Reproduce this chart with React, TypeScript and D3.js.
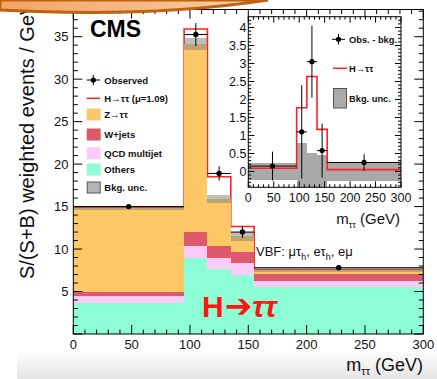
import React from 'react';
import * as d3 from 'd3';

// Histogram binning in m_tautau (GeV)
const binEdges = [0, 95, 115, 135, 155, 300];

// Stacked background contributions per bin (S/(S+B) weighted events / GeV)
const others = [3.6, 9.0, 7.6, 7.0, 5.55];
const qcdMultijet = [0.9, 1.35, 1.4, 1.3, 0.65];
const wJets = [0.4, 1.65, 1.35, 1.3, 0.9];
const zTauTau = [9.95, 22.15, 5.55, 1.9, 0.45];
const bkgUnc = [0.2, 0.75, 0.5, 0.55, 0.27];
const signal = [0.09, 1.75, 2.62, 1.15, 0.05];
const observed = [15.0, 35.25, 18.9, 12.0, 7.8];
const observedErr = [0.15, 1.35, 0.85, 0.7, 0.15];

// Inset: observed minus background
const obsMinusBkg = [0.15, 1.1, 3.05, 0.58, 0.25];
const obsMinusBkgErr = [0.4, 1.3, 1.0, 0.75, 0.23];
const insetSignal = [0.09, 1.77, 2.64, 1.17, 0.05];
const insetBkgUnc = [0.23, 0.8, 0.5, 0.46, 0.27];

const mainYTickLabels = [5, 10, 15, 20, 25, 30, 35];
const xTickLabels = [0, 50, 100, 150, 200, 250, 300];
const insetYTickLabels = ['0', '0.5', '1', '1.5', '2', '2.5', '3', '3.5', '4'];

const processKeys = ['others', 'qcd', 'wjets', 'ztt'];
const processColor: Record<string, string> = {
  others: '#8dfdd6',
  qcd: '#fccbf8',
  wjets: '#de5a6a',
  ztt: '#fdc865',
};

const FONT = "'Liberation Sans', Arial, Helvetica, sans-serif";

export default function App() {
  const W = 437;
  const H = 379;

  const x = d3.scaleLinear().domain([0, 300]).range([73.3, 423.3]);
  const y = d3.scaleLinear().domain([0, 38.2]).range([334, 9.5]);
  const ix = d3.scaleLinear().domain([0, 300]).range([248.3, 401]);
  const iy = d3.scaleLinear().domain([-0.44, 4.3]).range([187.3, 16.7]);

  const bins = binEdges.slice(0, -1).map((lo, i) => ({
    lo,
    hi: binEdges[i + 1],
    others: others[i],
    qcd: qcdMultijet[i],
    wjets: wJets[i],
    ztt: zTauTau[i],
  }));
  const layers = d3.stack<any>().keys(processKeys)(bins);
  const bkgTotal = bins.map((_, i) => layers[layers.length - 1][i][1]);
  const sPlusB = bkgTotal.map((b, i) => b + signal[i]);

  const stepPts = (vals: number[]) => [
    ...vals.map((v, i) => [binEdges[i], v] as [number, number]),
    [binEdges[binEdges.length - 1], vals[vals.length - 1]] as [number, number],
  ];
  const mainStep = d3
    .line<[number, number]>()
    .x((d) => x(d[0]))
    .y((d) => y(d[1]))
    .curve(d3.curveStepAfter)(stepPts(sPlusB));
  const insetStep = d3
    .line<[number, number]>()
    .x((d) => ix(d[0]))
    .y((d) => iy(d[1]))
    .curve(d3.curveStepAfter)(stepPts(insetSignal));

  const centers = bins.map((b) => (b.lo + b.hi) / 2);

  // Main axis ticks
  const yMinor = d3.range(0, 38.01, 1);
  const xMinor = d3.range(0, 300.01, 10);
  const x0 = x(0), x1 = x(300), yb = y(0), yt = y(38.2);

  const iyMinor = d3.range(-4, 43, 1).map((v) => v / 10);
  const ixMinor = d3.range(0, 300.01, 10);
  const ix0 = ix(0), ix1 = ix(300), iyb = iy(-0.44), iyt = iy(4.3);

  const legendRows = [
    { label: 'Z\u2192\u03c4\u03c4', color: processColor.ztt, yTop: 108.5 },
    { label: 'W+jets', color: processColor.wjets, yTop: 128.5 },
    { label: 'QCD multijet', color: processColor.qcd, yTop: 147.3 },
    { label: 'Others', color: processColor.others, yTop: 163.5 },
  ];

  return (
    <svg
      width={W}
      height={H}
      viewBox={`0 0 ${W} ${H}`}
      style={{ position: 'absolute', left: 0, top: 0, background: '#fff' }}
      fontFamily={FONT}
    >
      <defs>
        <linearGradient id="bannerFill" x1="0" y1="0" x2="1" y2="0">
          <stop offset="0" stopColor="#f2a466" />
          <stop offset="1" stopColor="#f8cfa8" />
        </linearGradient>
        <linearGradient id="floorFill" x1="0" y1="0" x2="0" y2="1">
          <stop offset="0" stopColor="#ffffff" />
          <stop offset="1" stopColor="#e4e4e4" />
        </linearGradient>
        <clipPath id="mainClip">
          <rect x={x0} y={yt} width={x1 - x0} height={yb - yt} />
        </clipPath>
        <clipPath id="insetClip">
          <rect x={ix0} y={iyt} width={ix1 - ix0} height={iyb - iyt} />
        </clipPath>
      </defs>

      <rect x={0} y={0} width={W} height={H} fill="#fff" />
      <rect x={17} y={350} width={W - 17} height={H - 350} fill="url(#floorFill)" />

      {/* S+B outline below the stack */}
      <path d={mainStep || ''} fill="none" stroke="#ff2020" strokeWidth={1.6} clipPath="url(#mainClip)" />

      {/* background stack */}
      <g clipPath="url(#mainClip)" shapeRendering="crispEdges">
        {layers.map((layer) =>
          layer.map((seg, i) => (
            <rect
              key={`${layer.key}-${i}`}
              x={x(bins[i].lo)}
              width={x(bins[i].hi) - x(bins[i].lo)}
              y={y(seg[1])}
              height={y(seg[0]) - y(seg[1])}
              fill={processColor[layer.key]}
            />
          ))
        )}
        {bins.map((b, i) => (
          <rect
            key={`unc-${i}`}
            x={x(b.lo)}
            width={x(b.hi) - x(b.lo)}
            y={y(bkgTotal[i] + bkgUnc[i])}
            height={y(bkgTotal[i] - bkgUnc[i]) - y(bkgTotal[i] + bkgUnc[i])}
            fill="#808080"
            fillOpacity={0.5}
          />
        ))}
      </g>

      {/* observed data */}
      <g stroke="#000" strokeWidth={1}>
        {bins.map((b, i) => (
          <g key={`obs-${i}`}>
            <line x1={x(b.lo)} x2={x(b.hi)} y1={y(observed[i])} y2={y(observed[i])} />
            <line
              x1={x(centers[i])}
              x2={x(centers[i])}
              y1={y(observed[i] - observedErr[i])}
              y2={y(observed[i] + observedErr[i])}
            />
            <circle cx={x(centers[i])} cy={y(observed[i])} r={2.7} fill="#000" stroke="none" />
          </g>
        ))}
      </g>

      {/* main frame and ticks */}
      <g stroke="#000" strokeWidth={1} fill="none">
        <rect x={x0} y={yt} width={x1 - x0} height={yb - yt} />
        {yMinor.map((v) => {
          const major = v % 5 === 0;
          const len = major ? 9 : 4.5;
          return (
            <g key={`ym-${v}`}>
              <line x1={x0} x2={x0 + len} y1={y(v)} y2={y(v)} />
              <line x1={x1} x2={x1 - len} y1={y(v)} y2={y(v)} />
            </g>
          );
        })}
        {xMinor.map((v) => {
          const major = v % 50 === 0;
          const len = major ? 9 : 4.5;
          return (
            <g key={`xm-${v}`}>
              <line x1={x(v)} x2={x(v)} y1={yb} y2={yb - len} />
              <line x1={x(v)} x2={x(v)} y1={yt} y2={yt + len} />
            </g>
          );
        })}
      </g>
      <g fontSize={13} fill="#111">
        {mainYTickLabels.map((v) => (
          <text key={`yl-${v}`} x={68.5} y={y(v) + 4.6} textAnchor="end">
            {v}
          </text>
        ))}
        {xTickLabels.map((v) => (
          <text key={`xl-${v}`} x={x(v)} y={348.5} textAnchor="middle">
            {v}
          </text>
        ))}
      </g>

      {/* axis titles */}
      <text
        transform={`translate(33.5, 279) rotate(-90)`}
        fontSize={20}
        fill="#111"
        textAnchor="start"
      >
        S/(S+B) weighted events / GeV
      </text>
      <text x={423} y={371} fontSize={18} fill="#111" textAnchor="end">
        m
        <tspan fontSize={11} dy={4}>
          {'\u03c4\u03c4'}
        </tspan>
        <tspan dy={-4}> (GeV)</tspan>
      </text>

      {/* CMS label */}
      <text x={90} y={37} fontSize={23} fontWeight="bold" fill="#000">
        CMS
      </text>

      {/* main legend */}
      <g fontSize={9.5} fontWeight="bold" fill="#111">
        <line x1={86.7} x2={100} y1={80} y2={80} stroke="#000" />
        <line x1={93.3} x2={93.3} y1={75} y2={85} stroke="#000" />
        <circle cx={93.3} cy={80} r={2.6} fill="#000" />
        <text x={104.3} y={83.5}>Observed</text>

        <line x1={86.7} x2={100} y1={98.3} y2={98.3} stroke="#ff2020" strokeWidth={1.5} />
        <text x={104.3} y={101.8}>
          {'H\u2192\u03c4\u03c4 (\u03bc=1.09)'}
        </text>

        {legendRows.map((r) => (
          <g key={r.label}>
            <rect x={86.7} y={r.yTop} width={14} height={12} fill={r.color} />
            <text x={104.3} y={r.yTop + 9.5}>
              {r.label}
            </text>
          </g>
        ))}
        <rect x={87.2} y={182} width={13} height={11} fill="#b4b4b4" stroke="#555" strokeWidth={1} />
        <text x={104.3} y={191.3}>Bkg. unc.</text>
      </g>

      {/* category label */}
      <text x={256} y={256} fontSize={13} fill="#111">
        {'VBF: \u03bc\u03c4'}
        <tspan fontSize={9} dy={4}>h</tspan>
        <tspan dy={-4}>{', e\u03c4'}</tspan>
        <tspan fontSize={9} dy={4}>h</tspan>
        <tspan dy={-4}>{', e\u03bc'}</tspan>
      </text>

      {/* process label */}
      <text x={202} y={316.5} fontSize={30} fontWeight="bold" fill="#ff1414">
        H
        <tspan fontFamily="'DejaVu Sans', sans-serif" fontSize={33} dx={1}>
          {'\u2794'}
        </tspan>
        <tspan fontStyle="italic">{'\u03c4\u03c4'}</tspan>
      </text>

      {/* inset */}
      <rect x={ix0} y={iyt} width={ix1 - ix0} height={iyb - iyt} fill="#fff" />
      <g clipPath="url(#insetClip)">
        {bins.map((b, i) => (
          <rect
            key={`iu-${i}`}
            x={ix(b.lo)}
            width={ix(b.hi) - ix(b.lo)}
            y={iy(insetBkgUnc[i])}
            height={iy(-insetBkgUnc[i]) - iy(insetBkgUnc[i])}
            fill="#a9a9a9"
            shapeRendering="crispEdges"
          />
        ))}
        <path d={insetStep || ''} fill="none" stroke="#ff2020" strokeWidth={1.6} />
        <g stroke="#000" strokeWidth={1}>
          {bins.map((b, i) => (
            <g key={`iobs-${i}`}>
              <line x1={ix(b.lo)} x2={ix(b.hi)} y1={iy(obsMinusBkg[i])} y2={iy(obsMinusBkg[i])} />
              <line
                x1={ix(centers[i])}
                x2={ix(centers[i])}
                y1={iy(obsMinusBkg[i] - obsMinusBkgErr[i])}
                y2={iy(obsMinusBkg[i] + obsMinusBkgErr[i])}
              />
              <circle cx={ix(centers[i])} cy={iy(obsMinusBkg[i])} r={2.6} fill="#000" stroke="none" />
            </g>
          ))}
        </g>
      </g>
      <g stroke="#000" strokeWidth={1} fill="none">
        <rect x={ix0} y={iyt} width={ix1 - ix0} height={iyb - iyt} />
        {iyMinor.map((v, k) => {
          const major = Math.round(v * 10) % 5 === 0;
          const len = major ? 6 : 3;
          return (
            <g key={`iym-${k}`}>
              <line x1={ix0} x2={ix0 + len} y1={iy(v)} y2={iy(v)} />
              <line x1={ix1} x2={ix1 - len} y1={iy(v)} y2={iy(v)} />
            </g>
          );
        })}
        {ixMinor.map((v) => {
          const major = v % 50 === 0;
          const len = major ? 6 : 3;
          return (
            <g key={`ixm-${v}`}>
              <line x1={ix(v)} x2={ix(v)} y1={iyb} y2={iyb - len} />
              <line x1={ix(v)} x2={ix(v)} y1={iyt} y2={iyt + len} />
            </g>
          );
        })}
      </g>
      <g fontSize={12.5} fill="#111">
        {insetYTickLabels.map((v) => (
          <text key={`iyl-${v}`} x={246.5} y={iy(+v) + 4.4} textAnchor="end">
            {v}
          </text>
        ))}
        {xTickLabels.map((v) => (
          <text key={`ixl-${v}`} x={ix(v)} y={201.7} textAnchor="middle">
            {v}
          </text>
        ))}
      </g>
      <text x={400} y={224} fontSize={15} fill="#111" textAnchor="end">
        m
        <tspan fontSize={9} dy={3.5}>
          {'\u03c4\u03c4'}
        </tspan>
        <tspan dy={-3.5}> (GeV)</tspan>
      </text>

      {/* inset legend */}
      <g fontSize={9.3} fontWeight="bold" fill="#111">
        <line x1={332} x2={345} y1={39.3} y2={39.3} stroke="#000" />
        <line x1={338.5} x2={338.5} y1={34} y2={44.5} stroke="#000" />
        <circle cx={338.5} cy={39.3} r={2.6} fill="#000" />
        <text x={349} y={42.6}>Obs. - bkg.</text>

        <line x1={333} x2={347} y1={68.3} y2={68.3} stroke="#ff2020" strokeWidth={1.5} />
        <text x={349} y={71.5}>{'H\u2192\u03c4\u03c4'}</text>

        <rect x={333.5} y={88.5} width={13} height={19.5} fill="#aaaaaa" stroke="#555" strokeWidth={1} />
        <text x={349} y={101.5}>Bkg. unc.</text>
      </g>

      {/* slide banner */}
      <path
        d="M0,0 H268 Q150,18 0,10 Z"
        fill="url(#bannerFill)"
        stroke="#c0620e"
        strokeWidth={3}
      />
    </svg>
  );
}
